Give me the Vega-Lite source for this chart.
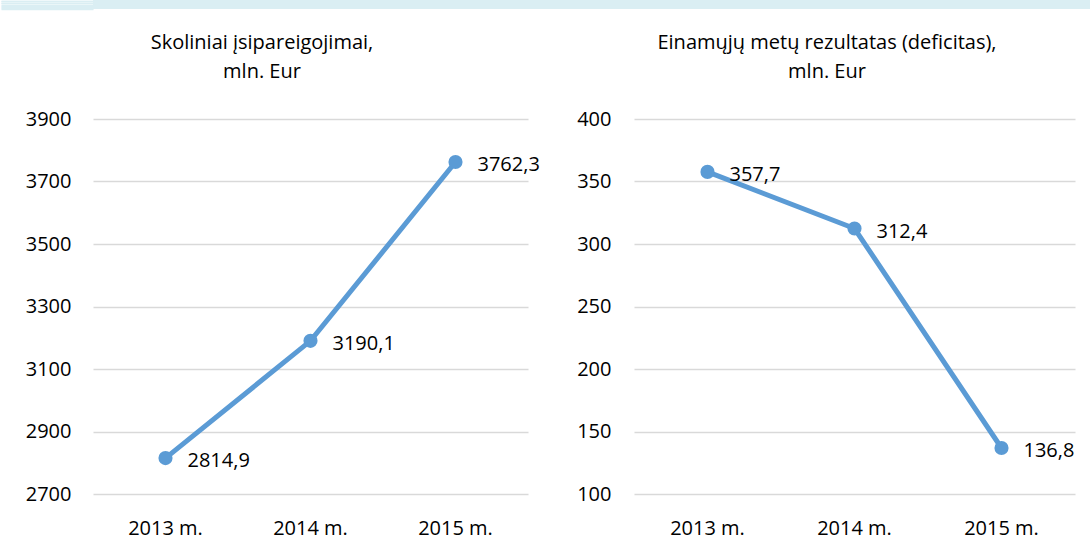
{
  "$schema": "https://vega.github.io/schema/vega-lite/v6.json",
  "padding": 0,
  "background": "white",
  "spacing": 23,
  "config": {
    "font": "Open Sans",
    "view": {"stroke": null},
    "axis": {
      "labelFont": "Open Sans",
      "labelFontSize": 20,
      "labelColor": "#000000",
      "title": null,
      "domain": false,
      "ticks": false,
      "gridColor": "#d9d9d9",
      "gridWidth": 1.5
    },
    "title": {
      "font": "Open Sans",
      "fontSize": 20,
      "fontWeight": "normal",
      "color": "#000000",
      "lineHeight": 29,
      "anchor": "middle",
      "offset": 27
    }
  },
  "datasets": {
    "debt": [
      {"year": "2013 m.", "value": 2814.9, "label": "2814,9"},
      {"year": "2014 m.", "value": 3190.1, "label": "3190,1"},
      {"year": "2015 m.", "value": 3762.3, "label": "3762,3"}
    ],
    "deficit": [
      {"year": "2013 m.", "value": 357.7, "label": "357,7"},
      {"year": "2014 m.", "value": 312.4, "label": "312,4"},
      {"year": "2015 m.", "value": 136.8, "label": "136,8"}
    ],
    "strip": [{"k": 4.5}]
  },
  "vconcat": [
    {
      "width": 998,
      "height": 9,
      "view": {"fill": "#daeef3", "stroke": null},
      "data": {"name": "strip"},
      "mark": {"type": "point", "opacity": 0},
      "encoding": {
        "y": {
          "field": "k",
          "type": "quantitative",
          "scale": {"domain": [0, 9], "nice": false, "zero": false},
          "axis": {
            "values": [0.5, 1.5, 2.5, 3.5, 4.5, 5.5, 6.5, 7.5, 8.5],
            "labels": false,
            "grid": false,
            "domain": false,
            "ticks": true,
            "tickSize": 92,
            "tickWidth": 1.6,
            "tickColor": "#daeef3",
            "title": null
          }
        }
      }
    },
    {
      "spacing": 36,
      "hconcat": [
        {
          "width": 435,
          "height": 375,
          "title": {"text": ["Skoliniai įsipareigojimai,", "mln. Eur"], "dx": -48.5},
          "data": {"name": "debt"},
          "encoding": {
            "x": {
              "field": "year",
              "type": "nominal",
              "sort": null,
              "scale": {"type": "band", "paddingInner": 0, "paddingOuter": 0},
              "axis": {"labelAngle": 0, "labelPadding": 24, "grid": false}
            },
            "y": {
              "field": "value",
              "type": "quantitative",
              "scale": {"domain": [2700, 3900], "nice": false, "zero": false},
              "axis": {
                "values": [2700, 2900, 3100, 3300, 3500, 3700, 3900],
                "format": "d",
                "labelPadding": 22,
                "grid": true,
                "title": ".",
                "titleOpacity": 0,
                "titleFontSize": 20,
                "titlePadding": 4.5
              }
            }
          },
          "layer": [
            {"mark": {"type": "line", "color": "#5b9bd5", "strokeWidth": 5}},
            {"mark": {"type": "point", "filled": true, "opacity": 1, "color": "#5b9bd5", "size": 200}},
            {"mark": {"type": "text", "align": "left", "baseline": "middle", "dx": 22, "dy": 3, "fontSize": 20, "color": "#000000"}, "encoding": {"text": {"field": "label"}}}
          ]
        },
        {
          "width": 441,
          "height": 375,
          "title": {"text": ["Einamųjų metų rezultatas (deficitas),", "mln. Eur"], "dx": -27.5},
          "data": {"name": "deficit"},
          "encoding": {
            "x": {
              "field": "year",
              "type": "nominal",
              "sort": null,
              "scale": {"type": "band", "paddingInner": 0, "paddingOuter": 0},
              "axis": {"labelAngle": 0, "labelPadding": 24, "grid": false}
            },
            "y": {
              "field": "value",
              "type": "quantitative",
              "scale": {"domain": [100, 400], "nice": false, "zero": false},
              "axis": {"values": [100, 150, 200, 250, 300, 350, 400], "format": "d", "labelPadding": 23, "grid": true}
            }
          },
          "layer": [
            {"mark": {"type": "line", "color": "#5b9bd5", "strokeWidth": 5}},
            {"mark": {"type": "point", "filled": true, "opacity": 1, "color": "#5b9bd5", "size": 200}},
            {"mark": {"type": "text", "align": "left", "baseline": "middle", "dx": 22, "dy": 3, "fontSize": 20, "color": "#000000"}, "encoding": {"text": {"field": "label"}}}
          ]
        }
      ]
    }
  ]
}
